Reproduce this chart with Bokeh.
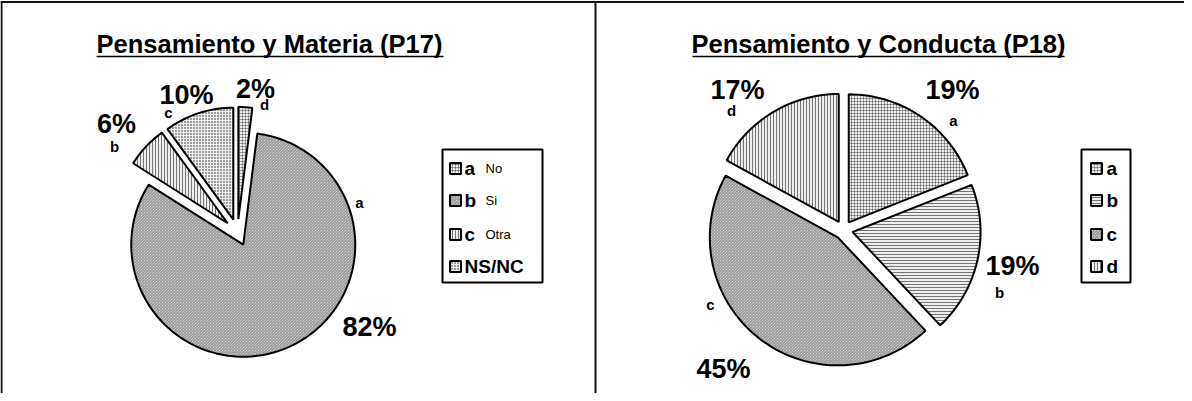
import math
from bokeh.plotting import figure
from bokeh.models import Range1d
from bokeh.core.properties import value
from bokeh.embed import file_html
from bokeh.resources import INLINE

# ---------------- data ----------------
titles = ["Pensamiento y Materia (P17)", "Pensamiento y Conducta (P18)"]

p17_categories = ["a", "b", "c", "d"]
p17_values = [82, 6, 10, 2]
p17_pct_labels = ["82%", "6%", "10%", "2%"]
p17_legend_keys = ["a", "b", "c", "NS/NC"]
p17_legend_desc = ["No", "Si", "Otra", ""]

p18_categories = ["a", "b", "c", "d"]
p18_values = [19, 19, 45, 17]
p18_pct_labels = ["19%", "19%", "45%", "17%"]
p18_legend_keys = ["a", "b", "c", "d"]

# ---------------- styles / layout ----------------
FONT = value("Liberation Sans")
p17_slice_hatch = ["left_diagonal_line", "vertical_line", "dot", "cross"]
p17_legend_hatch = ["cross", "left_diagonal_line", "vertical_line", "dot"]
p18_slice_hatch = ["cross", "horizontal_line", "left_diagonal_line", "vertical_line"]
p18_legend_hatch = p18_slice_hatch
hatch_weights = {"left_diagonal_line": 0.55, "vertical_line": 0.6, "horizontal_line": 0.6,
                 "dot": 0.9, "cross": 0.4}

W, H = 1184, 393
p = figure(width=W, height=H, output_backend="svg", toolbar_location=None,
           x_range=Range1d(8, 8 + W), y_range=Range1d(8 + H, 8),
           x_axis_type=None, y_axis_type=None, min_border=0)
p.grid.visible = False
p.outline_line_color = None
p.background_fill_color = "white"
p.border_fill_color = "white"

# frame lines
p.line([8, 1192], [9.5, 9.5], line_color="#111111", line_width=2)
p.line([9, 9], [9, 401], line_color="#111111", line_width=2)
p.line([603, 603], [9, 401], line_color="#111111", line_width=2)


def slice_polys(values, cx, cy, r, expl, first_angle):
    total = float(sum(values))
    xs, ys = [], []
    a0 = first_angle
    for v in values:
        a1 = a0 + v / total * 360.0
        m = math.radians((a0 + a1) / 2)
        ax = cx + expl * math.sin(m)
        ay = cy - expl * math.cos(m)
        n = max(4, int((a1 - a0) / 2))
        px, py = [ax], [ay]
        for k in range(n + 1):
            t = math.radians(a0 + (a1 - a0) * k / n)
            px.append(ax + r * math.sin(t))
            py.append(ay - r * math.cos(t))
        xs.append(px)
        ys.append(py)
        a0 = a1
    return xs, ys


def draw_pie(values, hatches, cx, cy, r, expl, first_angle):
    xs, ys = slice_polys(values, cx, cy, r, expl, first_angle)
    for px, py, h in zip(xs, ys, hatches):
        p.patch(px, py, fill_color="#eeeeee", hatch_pattern=h, hatch_color="#222222",
                hatch_scale=3, hatch_weight=hatch_weights[h], line_color="black",
                line_width=2)


draw_pie(p17_values, p17_slice_hatch, 245, 240, 112, 13.5, 7.2)
draw_pie(p18_values, p18_slice_hatch, 851, 237.5, 128, 9.3, 0.0)

# titles (underlined)
title_pos = [(277, 51), (886, 51)]
title_ul = [(104, 451), (700, 1072)]
for t, (tx, ty), (u0, u1) in zip(titles, title_pos, title_ul):
    p.text([tx], [ty], text=[t], text_font=FONT, text_font_style="bold",
           text_font_size="25.5px", text_align="center", text_baseline="middle",
           text_color="black")
    p.line([u0, u1], [64, 64], line_color="black", line_width=1.5)

# data labels
p17_pct_pos = [(377, 334), (124, 131), (194, 102), (263, 96)]
p17_cat_pos = [(367, 210), (122, 154), (176, 120), (272, 112)]
p18_pct_pos = [(960, 97), (1020, 273), (731, 376), (745, 97)]
p18_cat_pos = [(961, 128), (1007, 300), (718, 312), (739, 118)]

for labels, cats, ppos, cpos in [(p17_pct_labels, p17_categories, p17_pct_pos, p17_cat_pos),
                                 (p18_pct_labels, p18_categories, p18_pct_pos, p18_cat_pos)]:
    p.text([q[0] for q in ppos], [q[1] for q in ppos], text=labels, text_font=FONT,
           text_font_style="bold", text_font_size="27px", text_align="center",
           text_baseline="middle", text_color="black")
    p.text([q[0] for q in cpos], [q[1] for q in cpos], text=cats, text_font=FONT,
           text_font_style="bold", text_font_size="15px", text_align="center",
           text_baseline="middle", text_color="black")

# legends
rows_y = [176, 208, 242, 274]


def draw_legend(x0, x1, keys, descs, hatches, sq_x, key_x, desc_x):
    p.quad(left=[x0], right=[x1], top=[157], bottom=[290], fill_color="white",
           line_color="black", line_width=2)
    for y, h in zip(rows_y, hatches):
        p.rect([sq_x], [y], width=11, height=11, fill_color="#eeeeee",
               hatch_pattern=h, hatch_color="#222222", hatch_scale=3,
               hatch_weight=hatch_weights[h], line_color="black", line_width=2)
    p.text([key_x] * len(keys), rows_y, text=keys, text_font=FONT, text_font_style="bold",
           text_font_size="19px", text_align="left", text_baseline="middle",
           text_color="black")
    if descs:
        p.text([desc_x] * len(descs), rows_y, text=descs, text_font=FONT,
               text_font_size="13px", text_align="left", text_baseline="middle",
               text_color="black")


draw_legend(450, 550, p17_legend_keys, p17_legend_desc, p17_legend_hatch, 463, 472, 493)
draw_legend(1089, 1138, p18_legend_keys, None, p18_legend_hatch, 1104, 1114, 0)

open("out.html", "w").write(file_html(p, INLINE))
